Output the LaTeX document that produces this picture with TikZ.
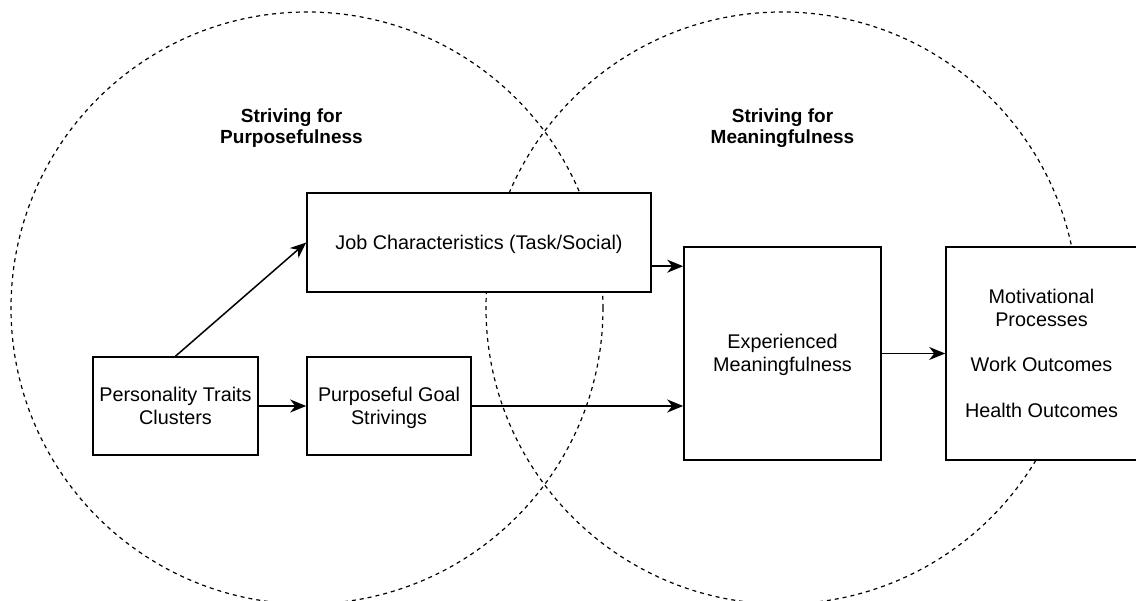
\documentclass[tikz,border=0pt]{standalone}
\usepackage{fontspec}
\setmainfont{Liberation Sans}
\usetikzlibrary{arrows.meta}
% a strut as tall as one full text line, so that lines sit in their line boxes
\newcommand\lnstrut{\rule[-0.2285em]{0pt}{1.15em}}
\begin{document}
\begin{tikzpicture}[x=1pt,y=-1pt,
  box/.style={draw, fill=white, line width=1.6pt, inner sep=0pt, align=center,
    font=\fontsize{19.8}{22.77}\selectfont},
  arr/.style={line width=1.5pt, -{Stealth[length=16pt,width=13pt,inset=5pt]}},
  zone/.style={line width=1.2pt, dash pattern=on 4pt off 4pt},
  heading/.style={align=center, font=\fontsize{19}{21.5}\selectfont\bfseries}]
\useasboundingbox (0,0) rectangle (1136,601);
\fill[white] (0,0) rectangle (1136,601);

% the two overlapping zones
\draw[zone] (307,308) circle[radius=296];
\draw[zone] (782,308) circle[radius=296];

\node[heading] (hp) at (291.5,128) {Striving for\\Purposefulness};
\node[heading] (hm) at (782.5,128) {Striving for\\Meaningfulness};

% boxes
\node[box, minimum width=165, minimum height=98] (pers) at (175.5,406)
  {\lnstrut Personality Traits\\\lnstrut Clusters};
\node[box, minimum width=164, minimum height=98] (goal) at (389,406)
  {\lnstrut Purposeful Goal\\\lnstrut Strivings};
\node[box, minimum width=344, minimum height=99] (job) at (479,242.5)
  {\lnstrut Job Characteristics (Task/Social)};
\node[box, minimum width=197, minimum height=213] (exp) at (782.5,353.5)
  {\lnstrut Experienced\\\lnstrut Meaningfulness};
\node[box, minimum width=191, minimum height=213] (out) at (1041.5,353.5)
  {\lnstrut Motivational\\\lnstrut Processes\\[22.77pt]\lnstrut Work Outcomes\\[22.77pt]\lnstrut Health Outcomes};

% connectors
\draw[arr] (pers.north) -- (job.west);
\draw[arr] (pers.east) -- (goal.west);
\draw[arr] ([yshift=-20pt]exp.north west -| job.east) -- ([yshift=-20pt]exp.north west);
\draw[arr] (goal.east) -- (goal.east -| exp.west);
\draw[arr] (exp.east) -- (out.west);
\end{tikzpicture}
\end{document}
